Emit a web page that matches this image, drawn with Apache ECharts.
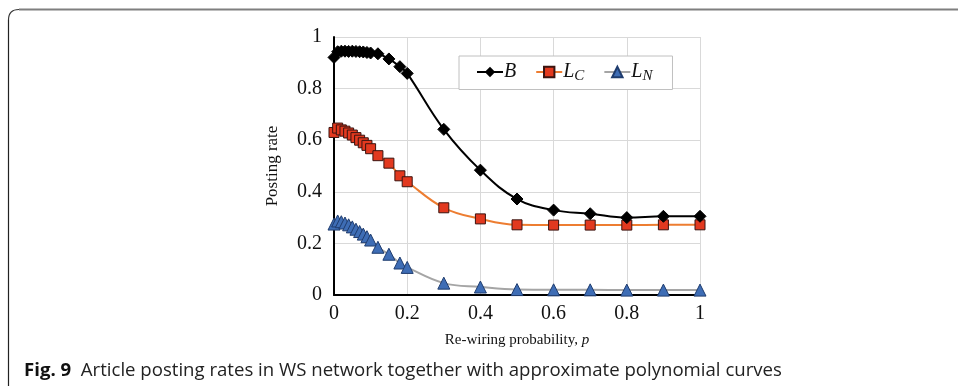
<!DOCTYPE html>
<html><head><meta charset="utf-8">
<script src="https://cdn.jsdelivr.net/npm/echarts@6/dist/echarts.min.js"></script>
<style>html,body{margin:0;padding:0;background:#fff}#c{width:958px;height:389px}</style>
</head><body><div id="c"></div>
<script>
const pValues = [0,0.01,0.02,0.03,0.04,0.05,0.06,0.07,0.08,0.09,0.1,0.12,0.15,0.18,0.2,0.3,0.4,0.5,0.6,0.7,0.8,0.9,1.0];
const bValues = [0.921,0.943,0.945,0.945,0.944,0.945,0.944,0.943,0.942,0.94,0.938,0.935,0.915,0.885,0.859,0.642,0.484,0.372,0.329,0.315,0.300,0.305,0.305];
const lcValues = [0.63,0.647,0.64,0.635,0.628,0.62,0.61,0.60,0.59,0.58,0.567,0.54,0.511,0.462,0.439,0.338,0.295,0.272,0.271,0.271,0.271,0.272,0.272];
const lnValues = [0.275,0.287,0.284,0.279,0.272,0.264,0.255,0.246,0.236,0.226,0.213,0.185,0.158,0.124,0.107,0.046,0.031,0.021,0.020,0.020,0.019,0.019,0.019];
const xTicks = [0,0.2,0.4,0.6,0.8,1];
const yTicks = [0,0.2,0.4,0.6,0.8,1];
const seriesNames = ['B','LC','LN'];
const captionBold = 'Fig. 9';
const captionText = 'Article posting rates in WS network together with approximate polynomial curves';

function pairs(v){ return pValues.map((p,i)=>[p,v[i]]); }
const serif = 'Liberation Serif';
const chart = echarts.init(document.getElementById('c'));
const fmt = v => String(+v.toFixed(1));
chart.setOption({
  animation:false,
  grid:{left:334,right:258,top:37,bottom:94},
  xAxis:{type:'value',min:0,max:1,interval:0.2,
    axisLine:{lineStyle:{color:'#000',width:2}},axisTick:{show:false},
    splitLine:{lineStyle:{color:'#d9d9d9',width:1}},
    axisLabel:{fontFamily:serif,fontSize:20,color:'#111',margin:9,formatter:fmt},
    name:'{a|Re-wiring probability, }{b|p}',nameLocation:'middle',nameGap:38,
    nameTextStyle:{rich:{a:{fontFamily:serif,fontSize:15,color:'#111'},b:{fontFamily:serif,fontSize:15,fontStyle:'italic',color:'#111'}}}},
  yAxis:{type:'value',min:0,max:1,interval:0.2,
    axisLine:{show:true,lineStyle:{color:'#000',width:2}},axisTick:{show:false},
    splitLine:{lineStyle:{color:'#d9d9d9',width:1}},
    axisLabel:{fontFamily:serif,fontSize:20,color:'#111',margin:12,formatter:fmt},
    name:'Posting rate',nameLocation:'middle',nameGap:53,
    nameTextStyle:{fontFamily:serif,fontSize:17,color:'#111'}},
  legend:{left:459,top:56,orient:'horizontal',itemWidth:26,itemHeight:13,itemGap:19,
    padding:[6,20,6,17],borderColor:'#c0c0c0',borderWidth:1,backgroundColor:'#fff',
    data:seriesNames,
    formatter:n=> n==='B'?'{i|B}':'{i|L}{s|'+n.slice(1)+'}',
    textStyle:{rich:{i:{fontFamily:serif,fontSize:20,fontStyle:'italic',color:'#111',padding:[0,0,0,-4]},
      s:{fontFamily:serif,fontSize:15,fontStyle:'italic',color:'#111',verticalAlign:'bottom',padding:[8,0,0,0]}}}},
  series:[
    {name:'B',type:'line',data:pairs(bValues),smooth:0.4,symbol:'diamond',symbolSize:12,
      lineStyle:{color:'#000',width:2},itemStyle:{color:'#000',borderColor:'#000'},z:5},
    {name:'LC',type:'line',data:pairs(lcValues),smooth:0.4,symbol:'rect',symbolSize:10,
      lineStyle:{color:'#ED7D31',width:2},itemStyle:{color:'#E2391F',borderColor:'#3a1410',borderWidth:1},z:4},
    {name:'LN',type:'line',data:pairs(lnValues),smooth:0.4,symbol:'triangle',symbolSize:12,
      lineStyle:{color:'#A5A5A5',width:2},itemStyle:{color:'#3E6DB5',borderColor:'#1f3c6e',borderWidth:1},z:3}
  ],
  graphic:[
    {type:'line',shape:{x1:8.5,y1:386,x2:8.5,y2:20},style:{stroke:'#222',lineWidth:1.2},silent:true},
    {type:'bezierCurve',shape:{x1:8.5,y1:20,cpx1:8.5,cpy1:9.5,x2:19,y2:9.5},style:{fill:null,stroke:'#333',lineWidth:1.2},silent:true},
    {type:'line',shape:{x1:19,y1:9.5,x2:958,y2:9.5},style:{stroke:'#7f7f7f',lineWidth:2},silent:true},
    {type:'text',left:24,top:361,style:{rich:{b:{fontFamily:'Open Sans',fontWeight:'bold',fontSize:18.6,fill:'#111'},r:{fontFamily:'Open Sans',fontSize:18.6,fill:'#222'}},
      text:'{b|'+captionBold+'}{r|  '+captionText+'}'}}
  ]
});
</script></body></html>
